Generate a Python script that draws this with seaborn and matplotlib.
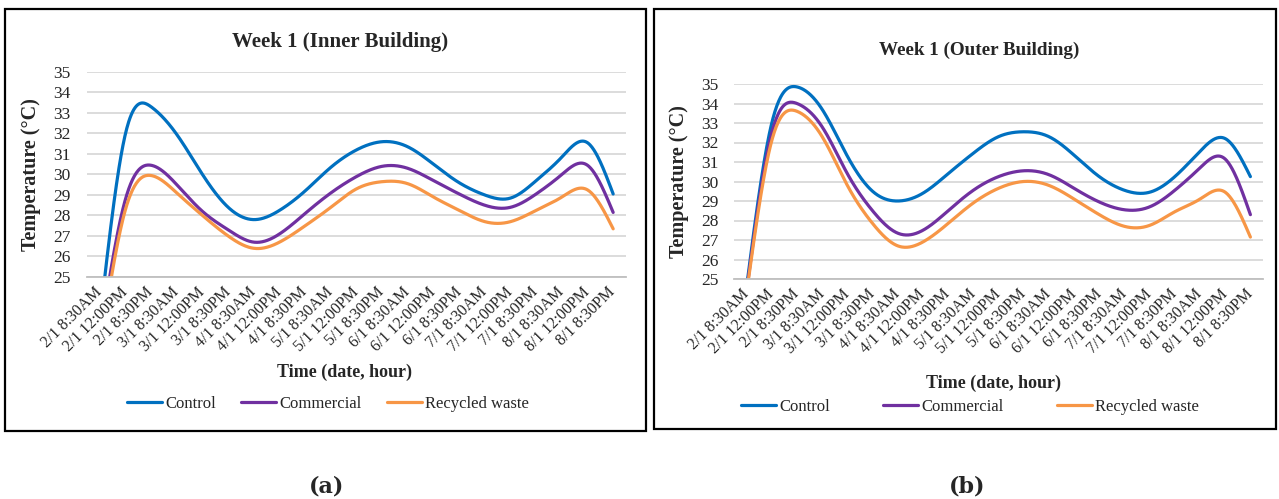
import numpy as np
import pandas as pd
import matplotlib
matplotlib.use("Agg")
import matplotlib.pyplot as plt
from matplotlib.patches import Rectangle
import seaborn as sns

# Category labels (date, hour)
time_labels = ['2/1 8:30AM', '2/1 12:00PM', '2/1 8:30PM',
               '3/1 8:30AM', '3/1 12:00PM', '3/1 8:30PM',
               '4/1 8:30AM', '4/1 12:00PM', '4/1 8:30PM',
               '5/1 8:30AM', '5/1 12:00PM', '5/1 8:30PM',
               '6/1 8:30AM', '6/1 12:00PM', '6/1 8:30PM',
               '7/1 8:30AM', '7/1 12:00PM', '7/1 8:30PM',
               '8/1 8:30AM', '8/1 12:00PM', '8/1 8:30PM']

# Week 1 - inner building
inner_control = [22.9, 32.0, 33.3, 31.95, 30.0, 28.4, 27.8, 28.25, 29.2, 30.35, 31.2,
                 31.6, 31.35, 30.5, 29.6, 29.0, 28.85, 29.7, 30.85, 31.55, 29.05]
inner_commercial = [22.0, 28.8, 30.45, 29.5, 28.2, 27.3, 26.7, 27.1, 28.1, 29.1, 29.9,
                    30.4, 30.3, 29.7, 29.05, 28.5, 28.4, 29.05, 30.0, 30.45, 28.15]
inner_recycled = [21.5, 28.3, 29.95, 29.1, 28.0, 27.0, 26.4, 26.7, 27.5, 28.4, 29.3,
                  29.65, 29.55, 28.9, 28.25, 27.7, 27.7, 28.25, 28.9, 29.25, 27.35]

# Week 1 - outer building
outer_control = [24.6, 33.0, 34.85, 33.7, 31.3, 29.5, 29.0, 29.4, 30.4, 31.45, 32.3,
                 32.55, 32.3, 31.35, 30.25, 29.55, 29.45, 30.25, 31.55, 32.2, 30.25]
outer_commercial = [24.4, 32.5, 34.0, 32.8, 30.4, 28.5, 27.35, 27.5, 28.5, 29.55, 30.25,
                    30.55, 30.35, 29.65, 28.95, 28.55, 28.7, 29.55, 30.7, 31.15, 28.3]
outer_recycled = [24.3, 32.1, 33.6, 32.3, 29.8, 27.85, 26.7, 26.9, 27.85, 28.9, 29.65,
                  30.0, 29.8, 29.1, 28.3, 27.7, 27.75, 28.45, 29.1, 29.45, 27.15]

series_names = ['Control', 'Commercial', 'Recycled waste']
colors = ['#0070C0', '#7030A0', '#F79646']


def smooth(vals, n=40):
    # natural cubic spline through the points, for a smoothed line look
    y = np.asarray(vals, float)
    k = len(y)
    A = np.zeros((k, k))
    b = np.zeros(k)
    A[0, 0] = A[-1, -1] = 1
    for i in range(1, k - 1):
        A[i, i - 1:i + 2] = [1, 4, 1]
        b[i] = 6 * (y[i + 1] - 2 * y[i] + y[i - 1])
    M = np.linalg.solve(A, b)
    t = np.linspace(0, 1, n, endpoint=False)
    xs, ys = [], []
    for i in range(k - 1):
        s = 1 - t
        xs.append(i + t)
        ys.append(s * y[i] + t * y[i + 1] + (s**3 - s) * M[i] / 6 + (t**3 - t) * M[i + 1] / 6)
    xs.append([k - 1])
    ys.append([y[-1]])
    return np.concatenate(xs), np.concatenate(ys)


sns.set_style("white")
plt.rcParams['font.family'] = ['Liberation Serif', 'DejaVu Serif']

W, H = 1279, 499
fig = plt.figure(figsize=(W / 100, H / 100), dpi=100)


def px_axes(x0, y0, x1, y1):
    return fig.add_axes([x0 / W, 1 - y1 / H, (x1 - x0) / W, (y1 - y0) / H])


def draw_panel(ax, data, title, title_xy, title_size, xlabel_xy, legend_xy, colspace, ypad):
    for vals, name, c in zip(data, series_names, colors):
        xs, ys = smooth(vals)
        sns.lineplot(x=xs, y=ys, color=c, linewidth=2.3, label=name, ax=ax, sort=False)
    ax.set_xlim(-0.5, len(time_labels) - 0.5)
    ax.set_ylim(25, 35)
    ax.set_yticks(range(25, 36))
    ax.yaxis.grid(True, color='#d9d9d9', linewidth=1.3)
    ax.set_axisbelow(True)
    for s in ['left', 'right', 'top']:
        ax.spines[s].set_visible(False)
    ax.spines['bottom'].set_color('#bfbfbf')
    ax.spines['bottom'].set_linewidth(1.3)
    ax.set_xticks(range(len(time_labels)))
    ax.set_xticklabels(time_labels, rotation=45, ha='right', va='center',
                       rotation_mode='anchor', fontsize=11.5)
    ax.set_xticks(np.arange(-0.5, len(time_labels)), minor=True)
    ax.tick_params(axis='x', which='major', length=0, pad=9)
    ax.tick_params(axis='x', which='minor', length=5, color='#bfbfbf', width=1.2)
    ax.tick_params(axis='y', length=0, pad=ypad, labelsize=12.5)
    ax.set_ylabel('Temperature (°C)', fontsize=14.5, fontweight='bold')
    ax.yaxis.set_label_coords(-0.086, 0.5)
    ax.set_xlabel('')
    fig.text(title_xy[0] / W, 1 - title_xy[1] / H, title, ha='center', va='center',
             fontsize=title_size, fontweight='bold')
    fig.text(xlabel_xy[0] / W, 1 - xlabel_xy[1] / H, 'Time (date, hour)', ha='center',
             va='center', fontsize=13, fontweight='bold')
    ax.legend(loc='center', bbox_to_anchor=(legend_xy[0] / W, 1 - legend_xy[1] / H),
              bbox_transform=fig.transFigure, ncol=3, frameon=False, fontsize=12,
              handlelength=2.1, handletextpad=0.2, columnspacing=colspace)


ax1 = px_axes(87, 72, 626, 277)
draw_panel(ax1, [inner_control, inner_commercial, inner_recycled],
           'Week 1 (Inner Building)', (340, 42), 15, (345, 372), (328, 404), 1.5, 12)

ax2 = px_axes(734, 84, 1263, 279)
draw_panel(ax2, [outer_control, outer_commercial, outer_recycled],
           'Week 1 (Outer Building)', (979, 50), 13.8, (994, 383), (970, 407), 3.2, 11)

# panel frames
fig.add_artist(Rectangle((5 / W, 1 - 431 / H), 641 / W, 422 / H, transform=fig.transFigure,
                         fill=False, edgecolor='black', linewidth=1.6))
fig.add_artist(Rectangle((654 / W, 1 - 429 / H), 622 / W, 420 / H, transform=fig.transFigure,
                         fill=False, edgecolor='black', linewidth=1.6))

fig.text(327 / W, 1 - 486 / H, '(a)', ha='center', va='center', fontsize=16,
         fontweight='bold', family='DejaVu Serif')
fig.text(967 / W, 1 - 486 / H, '(b)', ha='center', va='center', fontsize=16,
         fontweight='bold', family='DejaVu Serif')

fig.savefig('out.png', dpi=100)
